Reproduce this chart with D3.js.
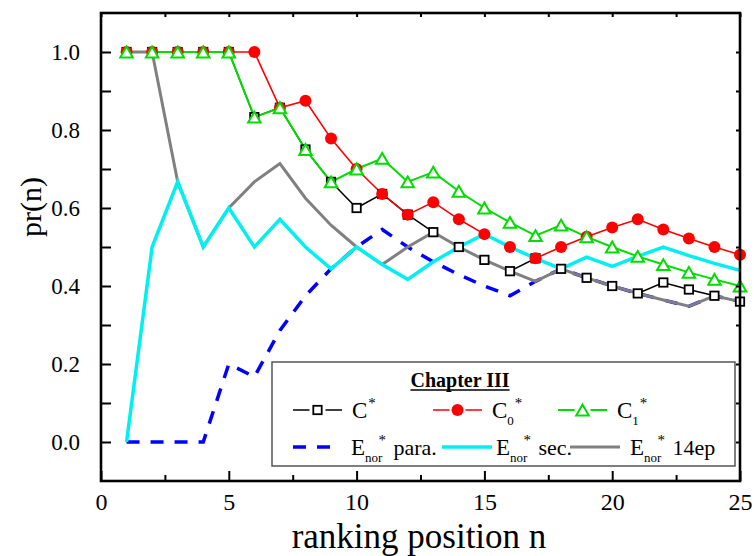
<!DOCTYPE html>
<html>
<head>
<meta charset="utf-8">
<script src="https://cdn.jsdelivr.net/npm/d3@7"></script>
<style>
body { margin: 0; background: #fff; }
svg { display: block; font-family: "Liberation Serif", "Times New Roman", serif; }
</style>
</head>
<body>
<svg id="chart" width="754" height="556"></svg>
<script>
// ranking positions and precision values
var ranks = [1, 2, 3, 4, 5, 6, 7, 8, 9, 10, 11, 12, 13, 14, 15, 16, 17, 18, 19, 20, 21, 22, 23, 24, 25];
var cStar  = [1, 1, 1, 1, 1, 0.833, 0.857, 0.75, 0.667, 0.6, 0.636, 0.583, 0.538, 0.5, 0.467, 0.438, 0.471, 0.444, 0.421, 0.4, 0.381, 0.409, 0.391, 0.375, 0.36];
var c0Star = [1, 1, 1, 1, 1, 1, 0.857, 0.875, 0.778, 0.7, 0.636, 0.583, 0.615, 0.571, 0.533, 0.5, 0.471, 0.5, 0.526, 0.55, 0.571, 0.545, 0.522, 0.5, 0.48];
var c1Star = [1, 1, 1, 1, 1, 0.833, 0.857, 0.75, 0.667, 0.7, 0.727, 0.667, 0.692, 0.643, 0.6, 0.563, 0.529, 0.556, 0.526, 0.5, 0.476, 0.455, 0.435, 0.417, 0.4];
var enorPara = [0, 0, 0, 0, 0.2, 0.167, 0.286, 0.375, 0.444, 0.5, 0.545, 0.5, 0.462, 0.429, 0.4, 0.375, 0.412, 0.444, 0.421, 0.4, 0.381, 0.364, 0.348, 0.375, 0.36];
var enorSec  = [0, 0.5, 0.667, 0.5, 0.6, 0.5, 0.571, 0.5, 0.444, 0.5, 0.455, 0.417, 0.462, 0.5, 0.533, 0.5, 0.471, 0.444, 0.474, 0.45, 0.476, 0.5, 0.478, 0.458, 0.44];
var enor14ep = [1, 1, 0.667, 0.5, 0.6, 0.667, 0.714, 0.625, 0.556, 0.5, 0.455, 0.5, 0.538, 0.5, 0.467, 0.438, 0.412, 0.444, 0.421, 0.4, 0.381, 0.364, 0.348, 0.375, 0.36];

var xMajorTicks = [0, 5, 10, 15, 20, 25];
var xMinorTicks = [2.5, 7.5, 12.5, 17.5, 22.5];
var yTicks = [0, 0.1, 0.2, 0.3, 0.4, 0.5, 0.6, 0.7, 0.8, 0.9, 1.0];
var yLabelled = [0, 0.2, 0.4, 0.6, 0.8, 1.0];

(function() {
var svg = d3.select("#chart");
var pLeft = 101, pRight = 740, pTop = 13, pBottom = 481;

var x = d3.scaleLinear().domain([0, 25]).range([pLeft, pRight]);
var y = d3.scaleLinear().domain([-0.1, 1.1]).range([pBottom, pTop]);

// series: line styles and draw order (lines first, markers on top)
var series = [
    {key: "c",    vals: cStar,    color: "#000000", width: 1.5, marker: "square"},
    {key: "c0",   vals: c0Star,   color: "#ff0000", width: 1.6, marker: "circle"},
    {key: "c1",   vals: c1Star,   color: "#00dd00", width: 2,   marker: "triangle"},
    {key: "para", vals: enorPara, color: "#0000ff", width: 3.5, dash: "13,11"},
    {key: "ep14", vals: enor14ep, color: "#808080", width: 3},
    {key: "sec",  vals: enorSec,  color: "#00f0f0", width: 3.5}
];

var line = d3.line()
    .x(function(d, i) { return x(ranks[i]); })
    .y(function(d) { return y(d); });

var plot = svg.append("g");
series.forEach(function(s) {
    plot.append("path")
        .datum(s.vals)
        .attr("d", line)
        .attr("fill", "none")
        .attr("stroke", s.color)
        .attr("stroke-width", s.width)
        .attr("stroke-dasharray", s.dash || null)
        .attr("stroke-linejoin", "miter");
});

function drawMarker(g, type, color, cx, cy) {
    if (type == "square") {
        g.append("rect").attr("x", cx - 4.2).attr("y", cy - 4.2)
            .attr("width", 8.4).attr("height", 8.4)
            .attr("fill", "#fff").attr("stroke", color).attr("stroke-width", 1.8);
    } else if (type == "circle") {
        g.append("circle").attr("cx", cx).attr("cy", cy).attr("r", 6)
            .attr("fill", color);
    } else if (type == "triangle") {
        var s = 12.5, h = 10.8;
        g.append("path")
            .attr("d", "M" + cx + "," + (cy - h / 2) + "L" + (cx + s / 2) + "," + (cy + h / 2) +
                  "L" + (cx - s / 2) + "," + (cy + h / 2) + "Z")
            .attr("fill", "#fff").attr("stroke", color).attr("stroke-width", 2);
    }
}

series.filter(function(s) { return s.marker; }).forEach(function(s) {
    var g = svg.append("g");
    s.vals.forEach(function(v, i) {
        drawMarker(g, s.marker, s.color, x(ranks[i]), y(v));
    });
});

// axes
function styleAxis(g, size) {
    g.select(".domain").remove();
    g.attr("font-family", null).attr("font-size", size);
    g.selectAll("line").attr("stroke", "#000").attr("stroke-width", 2);
    g.selectAll("text").attr("fill", "#000");
}

svg.append("g").attr("transform", "translate(" + pLeft + ",0)")
    .call(d3.axisLeft(y).tickValues(yTicks).tickSize(-10).tickPadding(21)
        .tickFormat(function(d) { return yLabelled.some(function(v) { return Math.abs(v - d) < 1e-9; }) ? d3.format(".1f")(d) : ""; }))
    .call(styleAxis, 23);

svg.append("g").attr("transform", "translate(" + pRight + ",0)")
    .call(d3.axisRight(y).tickValues(yTicks).tickSize(-4).tickFormat(""))
    .call(styleAxis, 23);

svg.append("g").attr("transform", "translate(0," + pBottom + ")")
    .call(d3.axisBottom(x).tickValues(xMajorTicks).tickSize(-10).tickPadding(12).tickFormat(d3.format("d")))
    .call(styleAxis, 24);

svg.append("g").attr("transform", "translate(0," + pBottom + ")")
    .call(d3.axisBottom(x).tickValues(xMinorTicks).tickSize(-6).tickFormat(""))
    .call(styleAxis, 24);

svg.append("g").attr("transform", "translate(0," + pTop + ")")
    .call(d3.axisTop(x).tickValues(xMajorTicks.concat(xMinorTicks)).tickSize(-4).tickFormat(""))
    .call(styleAxis, 24);

svg.append("rect")
    .attr("x", pLeft).attr("y", pTop)
    .attr("width", pRight - pLeft).attr("height", pBottom - pTop)
    .attr("fill", "none").attr("stroke", "#000").attr("stroke-width", 2.6);

// axis titles
svg.append("text")
    .attr("transform", "translate(41,207) rotate(-90)")
    .attr("text-anchor", "middle")
    .attr("font-size", 30)
    .text("pr(n)");

svg.append("text")
    .attr("x", 419).attr("y", 548)
    .attr("text-anchor", "middle")
    .attr("font-size", 35)
    .text("ranking position n");

// legend
var leg = svg.append("g");
leg.append("rect")
    .attr("x", 272).attr("y", 362).attr("width", 463).attr("height", 104)
    .attr("fill", "#fff").attr("stroke", "#555").attr("stroke-width", 1.5);

var title = leg.append("text")
    .attr("x", 460).attr("y", 387)
    .attr("text-anchor", "middle")
    .attr("font-size", 20).attr("font-weight", "bold")
    .text("Chapter III");
var tw = title.node().getComputedTextLength();
leg.append("line")
    .attr("x1", 460 - tw / 2).attr("x2", 460 + tw / 2)
    .attr("y1", 390).attr("y2", 390)
    .attr("stroke", "#000").attr("stroke-width", 1.5);

var legendItems = [
    {s: series[0], row: 410, x0: 293, x1: 342, tx: 352, main: "C", sub: "",    tail: ""},
    {s: series[1], row: 410, x0: 433, x1: 482, tx: 492, main: "C", sub: "0",   tail: ""},
    {s: series[2], row: 410, x0: 558, x1: 607, tx: 617, main: "C", sub: "1",   tail: ""},
    {s: series[3], row: 447, x0: 293, x1: 333, tx: 351, main: "E", sub: "nor", tail: "para."},
    {s: series[5], row: 447, x0: 442, x1: 492, tx: 496, main: "E", sub: "nor", tail: "sec."},
    {s: series[4], row: 447, x0: 570, x1: 620, tx: 630, main: "E", sub: "nor", tail: "14ep"}
];

legendItems.forEach(function(it) {
    var s = it.s;
    leg.append("line")
        .attr("x1", it.x0).attr("x2", it.x1)
        .attr("y1", it.row).attr("y2", it.row)
        .attr("stroke", s.color).attr("stroke-width", s.width)
        .attr("stroke-dasharray", s.dash || null);
    if (s.marker) {
        leg.append("rect").attr("x", (it.x0 + it.x1) / 2 - 8).attr("y", it.row - 6)
            .attr("width", 16).attr("height", 12).attr("fill", "#fff");
        drawMarker(leg, s.marker, s.color, (it.x0 + it.x1) / 2, it.row);
    }
    var base = it.row + 8;
    var m = leg.append("text").attr("x", it.tx).attr("y", base).attr("font-size", 23).text(it.main);
    var mw = m.node().getComputedTextLength();
    var sw = 0;
    if (it.sub) {
        var sb = leg.append("text").attr("x", it.tx + mw).attr("y", base + 7).attr("font-size", 13).text(it.sub);
        sw = sb.node().getComputedTextLength();
    }
    var supX = it.sub.length > 1 ? it.tx + mw + sw - 4 : it.tx + mw + sw + 1;
    leg.append("text").attr("x", supX).attr("y", base - 10).attr("font-size", 15).text("*");
    if (it.tail) {
        leg.append("text").attr("x", it.tx + mw + sw + 11).attr("y", base).attr("font-size", 22).text(it.tail);
    }
});
})();
</script>
</body>
</html>
